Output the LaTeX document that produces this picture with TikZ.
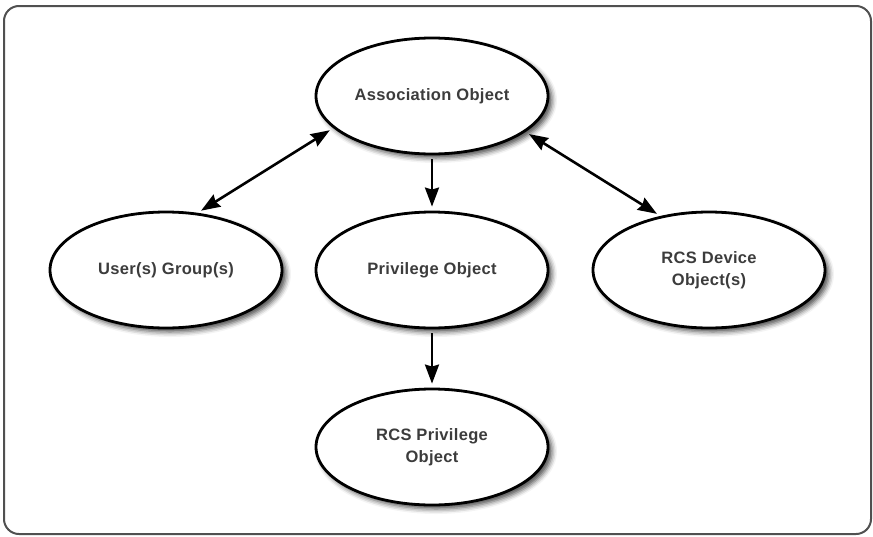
\documentclass[tikz,border=0pt]{standalone}
\usepackage{fontspec}
\setmainfont[LetterSpace=2]{Liberation Sans}
\usepackage{xcolor}
\usepackage{tikz}
\usetikzlibrary{arrows.meta,shapes.geometric,shadows.blur}
\definecolor{framegray}{RGB}{80,80,80}
\definecolor{textgray}{RGB}{60,60,60}

\begin{document}
\begin{tikzpicture}[x=1pt,y=-1pt,>={Stealth[length=19pt,width=14pt,inset=2pt]},
    obj/.style={ellipse,draw=black,line width=2.8pt,fill=white,minimum width=232pt,
      minimum height=116pt,inner sep=0pt,align=center,text=textgray,
      font=\fontsize{16.5}{22}\selectfont\bfseries,
      blur shadow={shadow xshift=4pt,shadow yshift=-4pt,shadow blur radius=5pt,shadow opacity=70}},
    link/.style={line width=2.6pt,shorten <=4pt,shorten >=4pt}]
  \useasboundingbox (0,0) rectangle (873,536);
  \draw[framegray,line width=2pt,rounded corners=15pt] (4,6) rectangle (871,534);
  \node[obj] (assoc) at (432,96) {Association Object};
  \node[obj] (users) at (166,270) {User(s) Group(s)};
  \node[obj] (priv) at (432,270) {Privilege Object};
  \node[obj] (device) at (709,270) {RCS Device\\Object(s)};
  \node[obj] (rcspriv) at (432,447) {RCS Privilege\\Object};
  \draw[link,<->] (users.61) -- (assoc.198);
  \draw[link,<->] (assoc.-21) -- (device.132);
  \draw[link,->] (assoc.south) -- (priv.north);
  \draw[link,->] (priv.south) -- (rcspriv.north);
\end{tikzpicture}
\end{document}
